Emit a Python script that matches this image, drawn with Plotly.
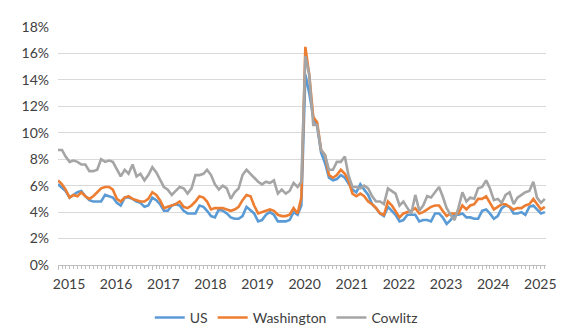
import pandas as pd
import plotly.graph_objects as go

months = pd.date_range("2015-01-01", "2025-05-01", freq="MS")

us = [
    6.1, 5.8, 5.6, 5.1, 5.3, 5.5, 5.6, 5.2, 4.9, 4.8, 4.8, 4.8,
    5.3, 5.2, 5.1, 4.7, 4.5, 5.1, 5.1, 5.0, 4.8, 4.7, 4.4, 4.5,
    5.1, 4.9, 4.6, 4.1, 4.1, 4.5, 4.6, 4.5, 4.1, 3.9, 3.9, 3.9,
    4.5, 4.4, 4.1, 3.7, 3.6, 4.2, 4.1, 3.9, 3.6, 3.5, 3.5, 3.7,
    4.4, 4.1, 3.9, 3.3, 3.4, 3.8, 4.0, 3.8, 3.3, 3.3, 3.3, 3.4,
    4.0, 3.8, 4.5, 14.4, 13.0, 11.2, 10.5, 8.5, 7.7, 6.6, 6.4, 6.5,
    6.8, 6.6, 6.2, 5.7, 5.5, 6.1, 5.7, 5.3, 4.6, 4.3, 3.9, 3.7,
    4.4, 4.1, 3.8, 3.3, 3.4, 3.8, 3.8, 3.8, 3.3, 3.4, 3.4, 3.3,
    3.9, 3.9, 3.6, 3.1, 3.4, 3.8, 3.8, 3.9, 3.6, 3.6, 3.5, 3.5,
    4.1, 4.2, 3.9, 3.5, 3.7, 4.3, 4.5, 4.4, 3.9, 3.9, 4.0, 3.8,
    4.4, 4.5, 4.2, 3.9, 4.0,
]

washington = [
    6.4, 6.1, 5.7, 5.1, 5.3, 5.2, 5.5, 5.2, 5.0, 5.2, 5.5, 5.8,
    5.9, 5.9, 5.7, 5.0, 4.8, 5.1, 5.2, 5.0, 4.9, 4.8, 4.8, 5.0,
    5.5, 5.3, 4.9, 4.3, 4.4, 4.5, 4.6, 4.8, 4.4, 4.3, 4.5, 4.8,
    5.2, 5.1, 4.8, 4.2, 4.3, 4.3, 4.3, 4.2, 4.1, 4.2, 4.4, 4.9,
    5.3, 5.2, 4.5, 3.9, 4.0, 4.1, 4.2, 4.1, 3.8, 3.7, 3.7, 3.8,
    4.3, 3.9, 5.1, 16.5, 14.4, 11.2, 10.8, 8.7, 8.3, 6.8, 6.6, 6.8,
    7.2, 6.9, 6.4, 5.4, 5.2, 5.4, 5.2, 4.8, 4.6, 4.3, 3.9, 3.8,
    4.8, 4.5, 4.1, 3.6, 3.9, 4.0, 4.1, 4.3, 3.9, 4.0, 4.2, 4.4,
    4.5, 4.5, 4.1, 3.7, 3.9, 3.9, 3.9, 4.5, 4.2, 4.5, 4.6, 5.0,
    5.0, 5.2, 4.7, 4.2, 4.4, 4.6, 4.6, 4.4, 4.2, 4.3, 4.3, 4.5,
    4.6, 5.0, 4.6, 4.2, 4.4,
]

cowlitz = [
    8.7, 8.7, 8.2, 7.8, 7.9, 7.8, 7.6, 7.6, 7.1, 7.1, 7.2, 8.0,
    7.8, 7.9, 7.8, 7.2, 6.7, 7.2, 6.9, 7.6, 6.7, 6.9, 6.4, 6.8,
    7.4, 7.0, 6.5, 5.9, 5.7, 5.3, 5.6, 5.9, 5.8, 5.4, 5.8, 6.8,
    6.8, 6.9, 7.2, 6.8, 6.1, 5.7, 6.0, 5.8, 5.0, 5.5, 5.8, 6.8,
    7.2, 6.9, 6.6, 6.3, 6.1, 6.3, 6.2, 6.4, 5.4, 5.7, 5.4, 5.6,
    6.2, 5.9, 6.3, 15.8, 14.4, 10.6, 10.6, 8.7, 8.3, 7.2, 7.2, 7.8,
    7.8, 8.2, 6.8, 5.9, 5.9, 5.8, 6.0, 5.8, 5.2, 4.8, 4.8, 4.6,
    5.8, 5.6, 5.4, 4.5, 4.8, 4.3, 3.9, 5.3, 4.1, 4.5, 5.2, 5.1,
    5.5, 5.9, 5.2, 4.3, 3.8, 3.4, 4.3, 5.5, 4.8, 5.1, 5.0, 5.8,
    5.9, 6.4, 5.8, 4.9, 5.0, 4.7, 5.3, 5.5, 4.6, 5.1, 5.3, 5.5,
    5.6, 6.3, 5.1, 4.7, 5.0,
]

year_ticks = pd.date_range("2015-01-01", "2025-01-01", freq="YS")
year_labels = [str(d.year) for d in year_ticks]
y_ticks = list(range(0, 20, 2))
y_labels = [f"{v}%" for v in y_ticks]

series = [
    ("US", us, "#5B9BD5"),
    ("Washington", washington, "#ED7D31"),
    ("Cowlitz", cowlitz, "#A5A5A5"),
]

fig = go.Figure()
for name, vals, color in series:
    fig.add_trace(go.Scatter(
        x=months, y=vals, name=name, mode="lines",
        line=dict(color=color, width=2.6),
    ))

font = dict(family="Lato, Carlito, sans-serif", size=14, color="#404040")

fig.update_layout(
    width=576, height=336,
    margin=dict(l=58, r=30, t=27, b=71, autoexpand=False),
    plot_bgcolor="white", paper_bgcolor="white",
    font=font,
    showlegend=True,
    legend=dict(
        orientation="h", xref="container", yref="container",
        x=0.497, xanchor="center", y=0.054, yanchor="middle",
        itemwidth=30, font=font, traceorder="normal",
    ),
    xaxis=dict(
        range=["2015-01-01", "2025-05-10"],
        tickvals=year_ticks, ticktext=year_labels,
        ticks="outside", ticklen=4, tickcolor="#BFBFBF",
        ticklabelshift=11, ticklabelstandoff=2, automargin=False,
        showline=True, linecolor="#BFBFBF", linewidth=1,
        showgrid=False, zeroline=False,
        minor=dict(dtick="M1", ticks="outside", ticklen=3, tickcolor="#BFBFBF", showgrid=False),
    ),
    yaxis=dict(
        range=[0, 18], tickvals=y_ticks, ticktext=y_labels,
        showgrid=True, gridcolor="#D9D9D9", gridwidth=1,
        zeroline=False, showline=False, ticks="", automargin=False,
        ticklabelstandoff=8,
    ),
)

fig.write_html("out.html")
